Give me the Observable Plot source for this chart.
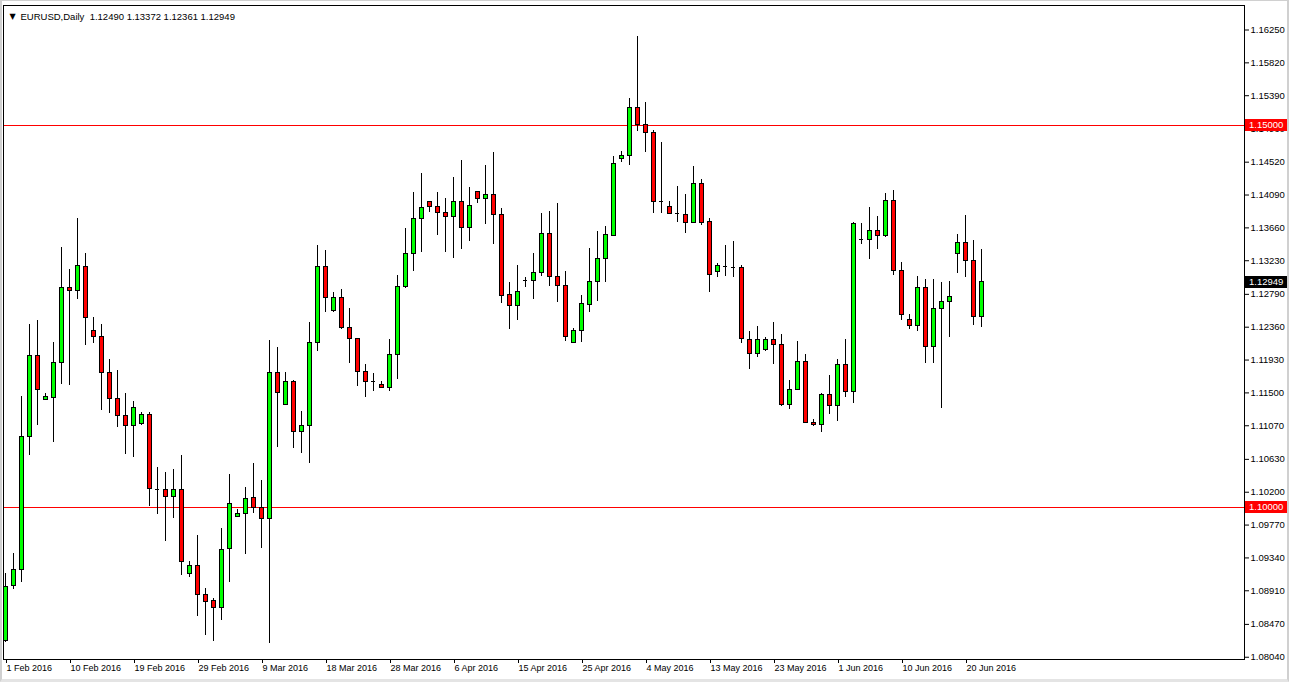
<!DOCTYPE html>
<html><head><meta charset="utf-8">
<script src="https://cdn.jsdelivr.net/npm/d3@7"></script>
<script src="https://cdn.jsdelivr.net/npm/@observablehq/plot@0.6"></script>
<style>
html,body{margin:0;padding:0;background:#ffffff;}
#chart{position:relative;width:1289px;height:682px;overflow:hidden;}
#chart svg{display:block;}
#edge{position:absolute;left:0;top:0;width:1289px;height:682px;box-sizing:border-box;
  border-left:2px solid #d0d0d0;border-right:2px solid #d0d0d0;border-bottom:3px solid #e4e4e4;border-top:1px solid #d0d0d0;pointer-events:none;}
</style></head><body><div id="chart"><div id="edge"></div></div>
<script>
// ---- data (EURUSD daily, 1 Feb 2016 – 22 Jun 2016, Sunday bars included) ----
const symbol = "EURUSD";
const period = "Daily";
const open = [
1.08259,1.08966,1.09185,1.10920,1.11986,1.11410,1.11436,1.11889,1.12876,1.12831,
1.13154,1.12313,1.12234,1.11763,1.11423,1.11204,1.11064,1.11090,1.11213,1.10240,
1.10232,1.10140,1.10232,1.09127,1.09237,1.08857,1.08770,1.08687,1.09459,1.09878,
1.09918,1.10127,1.09996,1.09852,1.11763,1.11348,1.11645,1.10991,1.11069,1.12156,
1.13151,1.12575,1.12745,1.12352,1.12208,1.11776,1.11645,1.11606,1.11567,1.11999,
1.12889,1.13321,1.13779,1.14001,1.13936,1.13857,1.13805,1.14001,1.13661,1.14132,
1.14041,1.14093,1.13831,1.12775,1.12640,1.12975,1.12967,1.13072,1.13582,1.13020,
1.12902,1.12156,1.12313,1.12653,1.12954,1.13255,1.13560,1.14564,1.14598,1.15232,
1.15004,1.14904,1.14009,1.13931,1.13844,1.13831,1.13726,1.14237,1.13740,1.13089,
1.13158,1.13145,1.13137,1.12195,1.12012,1.12059,1.12195,1.12130,1.11344,1.11541,
1.11907,1.11109,1.11082,1.11475,1.11331,1.11868,1.11514,1.13504,1.13504,1.13617,
1.13551,1.14014,1.13098,1.12457,1.12373,1.12876,1.12107,1.12601,1.12692,1.13312,
1.13465,1.13220,1.12490];
const high = [
1.09132,1.09394,1.11453,1.12395,1.12448,1.11488,1.12160,1.13403,1.13111,1.13783,
1.13329,1.12483,1.12395,1.11933,1.11793,1.11492,1.11387,1.11247,1.11247,1.10524,
1.10458,1.10497,1.10681,1.09289,1.09634,1.08944,1.08809,1.09725,1.10432,1.09974,
1.10262,1.10580,1.10353,1.12186,1.12094,1.11763,1.11662,1.11257,1.12421,1.13429,
1.13364,1.12814,1.12849,1.12605,1.12208,1.11872,1.11750,1.11653,1.12195,1.13037,
1.13652,1.14123,1.14372,1.14010,1.14123,1.14041,1.14319,1.14542,1.14185,1.14140,
1.14476,1.14643,1.13910,1.12945,1.13168,1.13014,1.13325,1.13848,1.13874,1.13979,
1.13089,1.12339,1.12775,1.13390,1.13613,1.13678,1.14594,1.14660,1.15353,1.16165,
1.15301,1.14939,1.14778,1.14001,1.14202,1.14097,1.14463,1.14289,1.13779,1.13190,
1.13429,1.13486,1.13168,1.12304,1.12369,1.12221,1.12421,1.12264,1.11662,1.12169,
1.12003,1.11152,1.11488,1.11728,1.11933,1.12195,1.13726,1.13717,1.13923,1.13809,
1.14106,1.14145,1.13207,1.12522,1.13024,1.12984,1.12984,1.12941,1.12958,1.13573,
1.13822,1.13495,1.13372];
const low = [
1.08237,1.08923,1.09022,1.10685,1.11077,1.11401,1.10851,1.11610,1.11597,1.12726,
1.12124,1.12151,1.11270,1.11234,1.11051,1.10700,1.10658,1.11073,1.10017,1.09904,
1.09559,1.09860,1.09114,1.09088,1.08577,1.08329,1.08250,1.08525,1.09022,1.09870,
1.09389,1.09925,1.09459,1.08216,1.10789,1.11340,1.10776,1.10711,1.10572,1.12046,
1.12556,1.12556,1.12326,1.11881,1.11588,1.11436,1.11522,1.11554,1.11522,1.11675,
1.12863,1.13093,1.13342,1.13865,1.13560,1.13342,1.13263,1.13373,1.13486,1.13975,
1.13708,1.13446,1.12674,1.12334,1.12448,1.12884,1.12726,1.13027,1.12897,1.12687,
1.12177,1.12147,1.12160,1.12556,1.12700,1.12949,1.13547,1.14522,1.14473,1.14925,
1.14651,1.13852,1.13852,1.13831,1.13734,1.13582,1.13720,1.13695,1.12818,1.13007,
1.13027,1.13014,1.12143,1.11802,1.11959,1.12046,1.11868,1.11318,1.11279,1.11535,
1.11096,1.11064,1.10978,1.11213,1.11130,1.11444,1.11357,1.13439,1.13250,1.13381,
1.13538,1.13037,1.12444,1.12334,1.12308,1.11881,1.11889,1.11300,1.12221,1.13067,
1.13014,1.12386,1.12361];
const close = [
1.08957,1.09185,1.10920,1.11986,1.11541,1.11440,1.11894,1.12876,1.12831,1.13164,
1.12483,1.12234,1.11763,1.11423,1.11195,1.11067,1.11305,1.11213,1.10245,1.10240,
1.10140,1.10232,1.09289,1.09237,1.08857,1.08760,1.08687,1.09450,1.10048,1.09921,
1.10114,1.09996,1.09852,1.11763,1.11501,1.11645,1.10991,1.11069,1.12156,1.13151,
1.12745,1.12745,1.12352,1.12208,1.11776,1.11645,1.11645,1.11567,1.11999,1.12889,
1.13321,1.13779,1.13923,1.13936,1.13857,1.13805,1.14001,1.13661,1.13949,1.14041,
1.14093,1.13831,1.12771,1.12640,1.12823,1.12975,1.13072,1.13582,1.13020,1.12902,
1.12234,1.12313,1.12666,1.12954,1.13255,1.13569,1.14499,1.14603,1.15232,1.15004,
1.14904,1.14001,1.14009,1.13839,1.13844,1.13726,1.14237,1.13726,1.13041,1.13164,
1.13158,1.13145,1.12199,1.12012,1.12195,1.12195,1.12130,1.11344,1.11541,1.11907,
1.11109,1.11082,1.11475,1.11331,1.11868,1.11514,1.13713,1.13504,1.13617,1.13551,
1.14014,1.13098,1.12522,1.12373,1.12876,1.12107,1.12601,1.12692,1.12758,1.13465,
1.13220,1.12496,1.12949];

const xTickLabels = ["1 Feb 2016","10 Feb 2016","19 Feb 2016","29 Feb 2016","9 Mar 2016","18 Mar 2016",
  "28 Mar 2016","6 Apr 2016","15 Apr 2016","25 Apr 2016","4 May 2016","13 May 2016","23 May 2016",
  "1 Jun 2016","10 Jun 2016","20 Jun 2016"];
const xTickBars = [0,8,16,24,32,40,48,56,64,72,80,88,96,104,112,120];
const yTickValues = [1.16250,1.15820,1.15390,1.14960,1.14520,1.14090,1.13660,1.13230,1.12790,1.12360,
  1.11930,1.11500,1.11070,1.10630,1.10200,1.09770,1.09340,1.08910,1.08470,1.08040];
const levels = [1.15000, 1.10000];

// ---- build ----
const bars = open.map((o, i) => ({i, open: o, high: high[i], low: low[i], close: close[i]}));
const bodies = bars.filter(d => d.open !== d.close);
const dojis = bars.filter(d => d.open === d.close);
const last = bars[bars.length - 1];
const headerText = `${symbol},${period}  ` + [last.open, last.high, last.low, last.close].map(v => v.toFixed(5)).join(" ");
const tags = [
  {value: levels[0], bg: "#ff0000"},
  {value: levels[1], bg: "#ff0000"},
  {value: last.close, bg: "#000000"}
];

function priceTags(index, scales, values, dimensions) {
  const {width, marginRight} = dimensions;
  const g = d3.create("svg:g")
    .attr("font-family", "'Liberation Sans', Arial, sans-serif")
    .attr("font-size", 9.5)
    .attr("text-anchor", "start");
  for (const t of tags) {
    const y = Math.round(scales.y(t.value));
    g.append("rect")
      .attr("x", width - marginRight + 1).attr("y", y - 6)
      .attr("width", 42).attr("height", 12).attr("fill", t.bg);
    g.append("text")
      .attr("x", width - marginRight + 5).attr("y", y).attr("dy", "0.35em")
      .attr("text-anchor", "start")
      .attr("fill", "white").text(t.value.toFixed(5));
  }
  return g.node();
}

const chart = Plot.plot({
  width: 1289, height: 682,
  marginLeft: 3, marginRight: 45, marginTop: 5, marginBottom: 23,
  x: {type: "linear", domain: [-0.25, 154.875], axis: null, label: null},
  y: {domain: [1.080105, 1.165707], axis: null, label: null},
  color: {type: "identity"},
  style: {fontFamily: "'Liberation Sans', Arial, sans-serif", fontSize: "9px", color: "black", background: "white", overflow: "visible"},
  marks: [
    Plot.ruleY(levels, {stroke: "#ff0000", shapeRendering: "crispEdges"}),
    Plot.ruleX(bars, {x: "i", y1: "low", y2: "high", stroke: "black", shapeRendering: "crispEdges"}),
    Plot.rect(bodies, {
      x1: d => d.i - 0.25, x2: d => d.i + 0.25, y1: "open", y2: "close",
      fill: d => d.close > d.open ? "#00ff00" : "#ff0000",
      stroke: "black", shapeRendering: "crispEdges"
    }),
    Plot.ruleY(dojis, {y: "close", x1: d => d.i - 0.25, x2: d => d.i + 0.25, stroke: "black", shapeRendering: "crispEdges"}),
    Plot.axisY(yTickValues, {anchor: "right", label: null, tickSize: 4, tickPadding: 2, fontSize: 9.5, tickFormat: d => d.toFixed(5)}),
    Plot.axisX(xTickBars, {anchor: "bottom", label: null, tickSize: 4, tickPadding: 1, textAnchor: "start", dx: 1, fontSize: 9,
      tickFormat: d => xTickLabels[xTickBars.indexOf(d)]}),
    priceTags,
    Plot.frame({stroke: "black", shapeRendering: "crispEdges"}),
    Plot.text(["\u25BC"], {frameAnchor: "top-left", dx: 9, dy: 8, fontSize: 8, fontFamily: "DejaVu Sans", textAnchor: "middle"}),
    Plot.text([headerText], {frameAnchor: "top-left", dx: 17, dy: 8, textAnchor: "start", fontSize: 9.5})
  ]
});
document.getElementById("chart").prepend(chart);
</script>
</body></html>
